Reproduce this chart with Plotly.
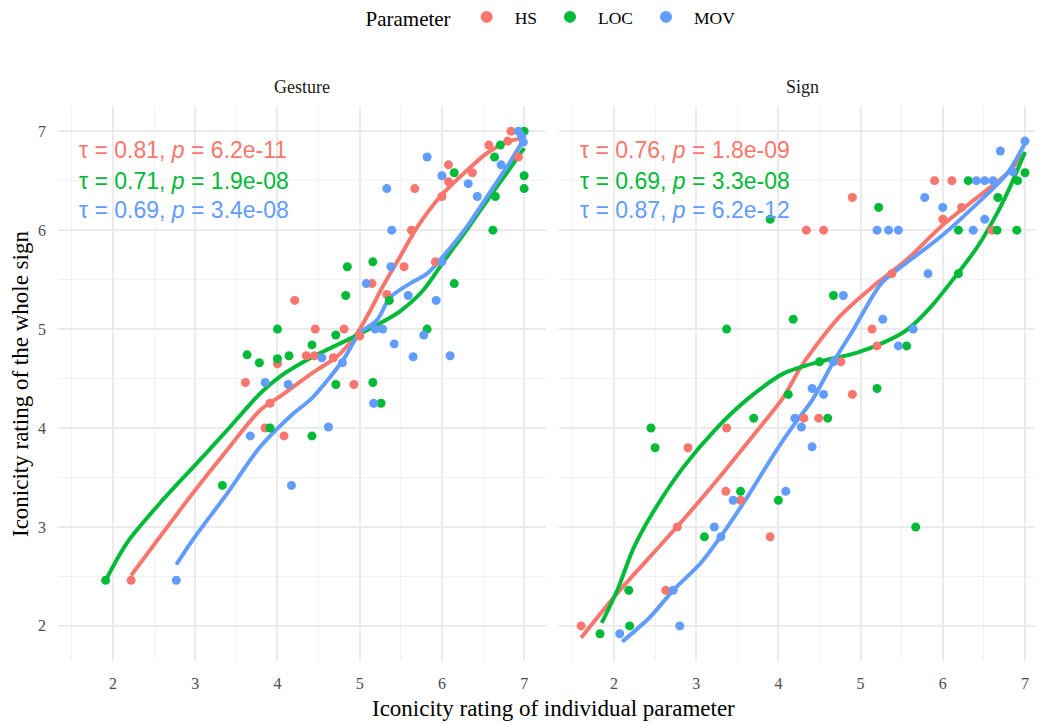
import plotly.graph_objects as go

# ---------------- data ----------------
params = ["HS", "LOC", "MOV"]
colors = {"HS": "#F8766D", "LOC": "#00BA38", "MOV": "#619CFF"}
facets = ["Gesture", "Sign"]

# Gesture facet points
g_hs_x = [6.84, 6.57, 6.80, 6.93, 6.08, 6.37, 6.08, 6.00, 5.67, 5.63, 5.54, 5.92, 5.15, 5.33,
          4.46, 4.81, 5.00, 4.21, 4.00, 4.35, 4.45, 4.68, 3.61, 3.91, 3.85, 4.08, 4.93, 2.22]
g_hs_y = [7.00, 6.86, 6.90, 6.74, 6.66, 6.58, 6.49, 6.34, 6.42, 6.00, 5.63, 5.68, 5.46, 5.35,
          5.00, 5.00, 4.93, 5.29, 4.65, 4.73, 4.73, 4.71, 4.46, 4.25, 4.00, 3.92, 4.44, 2.46]
g_loc_x = [7.00, 6.71, 6.64, 7.00, 7.00, 6.15, 6.65, 6.62, 5.16, 4.85, 6.15, 4.83, 5.36, 5.82,
           4.42, 4.71, 4.00, 3.63, 3.78, 4.00, 4.14, 4.71, 5.16, 5.26, 3.91, 4.42, 3.33, 1.91]
g_loc_y = [7.00, 6.86, 6.74, 6.55, 6.42, 6.58, 6.34, 6.00, 5.68, 5.63, 5.46, 5.34, 5.29, 5.00,
           4.84, 4.94, 5.00, 4.74, 4.66, 4.70, 4.73, 4.44, 4.46, 4.25, 4.00, 3.92, 3.42, 2.46]
g_mov_x = [6.93, 6.99, 6.72, 5.82, 6.00, 6.32, 6.43, 5.33, 5.39, 5.38, 6.00, 5.08, 5.59, 5.93,
           5.19, 5.28, 5.42, 5.78, 5.65, 6.10, 4.54, 4.79, 4.13, 3.85, 5.17, 4.62, 3.67, 4.17, 2.77, 6.97]
g_mov_y = [7.00, 6.89, 6.66, 6.74, 6.55, 6.47, 6.34, 6.42, 6.00, 5.63, 5.68, 5.46, 5.34, 5.29,
           5.00, 5.00, 4.85, 4.94, 4.72, 4.73, 4.71, 4.66, 4.44, 4.46, 4.25, 4.01, 3.92, 3.42, 2.46, 6.95]

# Sign facet points
s_hs_x = [5.90, 6.11, 4.90, 6.23, 6.00, 4.34, 4.55, 6.60, 5.38, 5.14, 5.20, 4.76, 4.90, 4.31,
          4.49, 3.37, 2.90, 3.36, 3.54, 2.77, 3.90, 2.63, 1.60]
s_hs_y = [6.50, 6.50, 6.33, 6.23, 6.11, 6.00, 6.00, 6.00, 5.56, 5.00, 4.83, 4.67, 4.34, 4.10,
          4.10, 4.00, 3.80, 3.36, 3.27, 3.00, 2.90, 2.36, 2.00]
s_loc_x = [3.90, 3.37, 4.18, 7.00, 6.91, 6.31, 5.22, 6.67, 6.19, 6.66, 6.90, 6.19, 4.67, 5.56,
           4.50, 5.20, 4.12, 4.60, 3.70, 2.45, 2.50, 3.54, 4.00, 3.10, 2.18, 2.19, 1.83, 5.67]
s_loc_y = [6.11, 5.00, 5.10, 6.58, 6.50, 6.50, 6.23, 6.33, 6.00, 6.00, 6.00, 5.56, 5.34, 4.83,
           4.67, 4.40, 4.34, 4.10, 4.10, 4.00, 3.80, 3.36, 3.27, 2.90, 2.36, 2.00, 1.92, 3.00]
s_mov_x = [7.00, 6.70, 6.85, 6.41, 6.51, 6.61, 5.78, 6.00, 5.20, 5.34, 5.46, 6.37, 6.51, 5.82,
           4.79, 5.27, 5.64, 5.46, 4.67, 4.41, 4.55, 4.20, 4.28, 4.41, 4.09, 3.45, 3.22, 3.30,
           2.72, 2.80, 2.07]
s_mov_y = [6.90, 6.80, 6.59, 6.50, 6.50, 6.50, 6.33, 6.23, 6.00, 6.00, 6.00, 6.00, 6.11, 5.56,
           5.34, 5.10, 5.00, 4.83, 4.67, 4.40, 4.34, 4.10, 4.01, 3.81, 3.36, 3.27, 3.00, 2.90,
           2.36, 2.00, 1.92]

# Smoothed (loess) curves
g_hs_cx = [2.22, 2.57, 2.97, 3.39, 3.79, 4.05, 4.43, 4.72, 4.97, 5.13, 5.28, 5.49, 5.70, 5.98, 6.30, 6.55, 6.79, 6.97]
g_hs_cy = [2.51, 2.90, 3.34, 3.78, 4.18, 4.33, 4.56, 4.72, 4.96, 5.19, 5.43, 5.73, 6.03, 6.34, 6.60, 6.78, 6.89, 6.93]
g_loc_cx = [1.91, 2.17, 2.57, 2.97, 3.39, 3.79, 4.03, 4.43, 4.85, 5.25, 5.49, 5.77, 6.01, 6.30, 6.55, 6.79, 7.00]
g_loc_cy = [2.46, 2.84, 3.24, 3.60, 3.98, 4.35, 4.52, 4.72, 4.89, 5.06, 5.18, 5.39, 5.67, 6.00, 6.30, 6.58, 6.83]
g_mov_cx = [2.77, 2.97, 3.39, 3.79, 4.17, 4.43, 4.80, 5.00, 5.21, 5.37, 5.61, 5.82, 6.01, 6.30, 6.55, 6.79, 6.97]
g_mov_cy = [2.62, 2.87, 3.34, 3.81, 4.13, 4.31, 4.69, 4.96, 5.09, 5.32, 5.46, 5.56, 5.73, 6.03, 6.34, 6.64, 6.88]

s_hs_cx = [1.60, 2.04, 2.44, 2.84, 3.25, 3.65, 4.06, 4.26, 4.42, 4.75, 5.15, 5.56, 5.97, 6.37, 6.78, 7.00]
s_hs_cy = [1.88, 2.33, 2.70, 3.07, 3.47, 3.88, 4.31, 4.60, 4.79, 5.13, 5.43, 5.70, 6.03, 6.30, 6.57, 6.78]
s_loc_cx = [1.85, 2.04, 2.23, 2.44, 2.84, 3.25, 3.65, 4.06, 4.50, 4.95, 5.27, 5.56, 5.85, 6.17, 6.42, 6.66, 6.82, 7.00]
s_loc_cy = [2.03, 2.36, 2.77, 3.10, 3.60, 4.00, 4.31, 4.55, 4.67, 4.76, 4.86, 4.99, 5.22, 5.55, 5.83, 6.17, 6.44, 6.79]
s_mov_cx = [2.10, 2.44, 2.72, 3.05, 3.33, 3.65, 3.98, 4.23, 4.41, 4.67, 4.91, 5.25, 5.56, 5.97, 6.37, 6.78, 7.00]
s_mov_cy = [1.84, 2.09, 2.36, 2.63, 2.94, 3.34, 3.78, 4.08, 4.28, 4.67, 4.99, 5.46, 5.67, 5.93, 6.23, 6.57, 6.88]

# Correlation labels
g_labels = {"HS": ("0.81", "6.2e-11"), "LOC": ("0.71", "1.9e-08"), "MOV": ("0.69", "3.4e-08")}
s_labels = {"HS": ("0.76", "1.8e-09"), "LOC": ("0.69", "3.3e-08"), "MOV": ("0.87", "6.2e-12")}

points = {
    "Gesture": {"HS": (g_hs_x, g_hs_y), "LOC": (g_loc_x, g_loc_y), "MOV": (g_mov_x, g_mov_y)},
    "Sign": {"HS": (s_hs_x, s_hs_y), "LOC": (s_loc_x, s_loc_y), "MOV": (s_mov_x, s_mov_y)},
}
curves = {
    "Gesture": {"HS": (g_hs_cx, g_hs_cy), "LOC": (g_loc_cx, g_loc_cy), "MOV": (g_mov_cx, g_mov_cy)},
    "Sign": {"HS": (s_hs_cx, s_hs_cy), "LOC": (s_loc_cx, s_loc_cy), "MOV": (s_mov_cx, s_mov_cy)},
}
labels = {"Gesture": g_labels, "Sign": s_labels}

# ---------------- figure ----------------
SERIF = "Liberation Serif, Times New Roman, serif"
SANS = "Liberation Sans, Arial, sans-serif"

fig = go.Figure()
axes = {"Gesture": ("x", "y"), "Sign": ("x2", "y2")}

for facet in facets:
    xa, ya = axes[facet]
    for p in params:
        cx, cy = curves[facet][p]
        fig.add_trace(go.Scatter(x=cx, y=cy, mode="lines", xaxis=xa, yaxis=ya,
                                 line=dict(color=colors[p], width=4, shape="spline", smoothing=0.8),
                                 showlegend=False, hoverinfo="skip"))
    for p in params:
        px, py = points[facet][p]
        fig.add_trace(go.Scatter(x=px, y=py, mode="markers", xaxis=xa, yaxis=ya, name=p,
                                 legendgroup=p, showlegend=(facet == "Gesture"),
                                 marker=dict(color=colors[p], size=9, line=dict(width=0))))

# The page body adds an 8px offset; work in reference pixels and shift by OFF.
OFF = 8
W, H = 1043 - OFF, 725 - OFF
PL, PR, PT, PB = 58, 1043, 106, 661      # plot area in reference pixels
L, T = PL - OFF, PT - OFF
R, B = (1043 - OFF) - (PR - OFF), H - (PB - OFF)
pw = W - L - R
ph = H - T - B

def px_to_paper_x(px):
    return (px - PL) / pw

def px_to_paper_y(py):
    return 1 - (py - PT) / ph

grid = dict(showgrid=True, gridcolor="#EBEBEB", gridwidth=1.5, zeroline=False, showline=False,
            ticks="", automargin=False, tickfont=dict(family=SERIF, size=16, color="#4D4D4D"),
            minor=dict(dtick=0.5, showgrid=True, gridcolor="#F2F2F2", gridwidth=0.8))

fig.update_layout(
    width=W, height=H,
    margin=dict(l=L, r=R, t=T, b=B, autoexpand=False),
    plot_bgcolor="white", paper_bgcolor="white",
    xaxis=dict(domain=[0, px_to_paper_x(546)], range=[1.331, 7.266], dtick=1, tick0=0,
               anchor="y", ticklabelstandoff=11, **grid),
    xaxis2=dict(domain=[px_to_paper_x(559), 1], range=[1.331, 7.219], dtick=1, tick0=0,
                anchor="y2", ticklabelstandoff=11, **grid),
    yaxis=dict(domain=[0, 1], range=[1.645, 7.255], dtick=1, tick0=0, anchor="x",
               ticklabelstandoff=11, **grid),
    yaxis2=dict(domain=[0, 1], range=[1.645, 7.255], dtick=1, tick0=0, anchor="x2",
                matches="y", showticklabels=False, **grid),
    legend=dict(orientation="h", x=px_to_paper_x(552), xanchor="center", y=px_to_paper_y(18),
                yanchor="middle", itemwidth=46,
                title=dict(text="Parameter", font=dict(family=SERIF, size=21, color="black")),
                font=dict(family=SERIF, size=17.5, color="black"), itemsizing="constant"),
    showlegend=True,
)

annotations = []
# facet strip titles
for name, cxp in (("Gesture", 302), ("Sign", 802)):
    annotations.append(dict(text=name, x=px_to_paper_x(cxp), y=px_to_paper_y(87), xref="paper", yref="paper",
                            xanchor="center", yanchor="middle", showarrow=False,
                            font=dict(family=SERIF, size=18, color="#1A1A1A")))
# axis titles
annotations.append(dict(text="Iconicity rating of individual parameter", x=px_to_paper_x(553),
                        y=px_to_paper_y(708), xref="paper", yref="paper", xanchor="center", yanchor="middle",
                        showarrow=False, font=dict(family=SERIF, size=23, color="black")))
annotations.append(dict(text="Iconicity rating of the whole sign", x=px_to_paper_x(20), y=px_to_paper_y(384),
                        xref="paper", yref="paper", xanchor="center", yanchor="middle", showarrow=False,
                        textangle=-90, font=dict(family=SERIF, size=23, color="black")))
# correlation labels
label_y = [6.81, 6.50, 6.20]
for facet in facets:
    xa, ya = axes[facet]
    for i, p in enumerate(params):
        tau, pv = labels[facet][p]
        annotations.append(dict(text=f"τ = {tau}, <i>p</i> = {pv}", x=1.565, y=label_y[i],
                                xref=xa, yref=ya, xanchor="left", yanchor="middle", showarrow=False,
                                font=dict(family=SANS, size=23, color=colors[p])))
fig.update_layout(annotations=annotations)

fig.write_html("out.html")
